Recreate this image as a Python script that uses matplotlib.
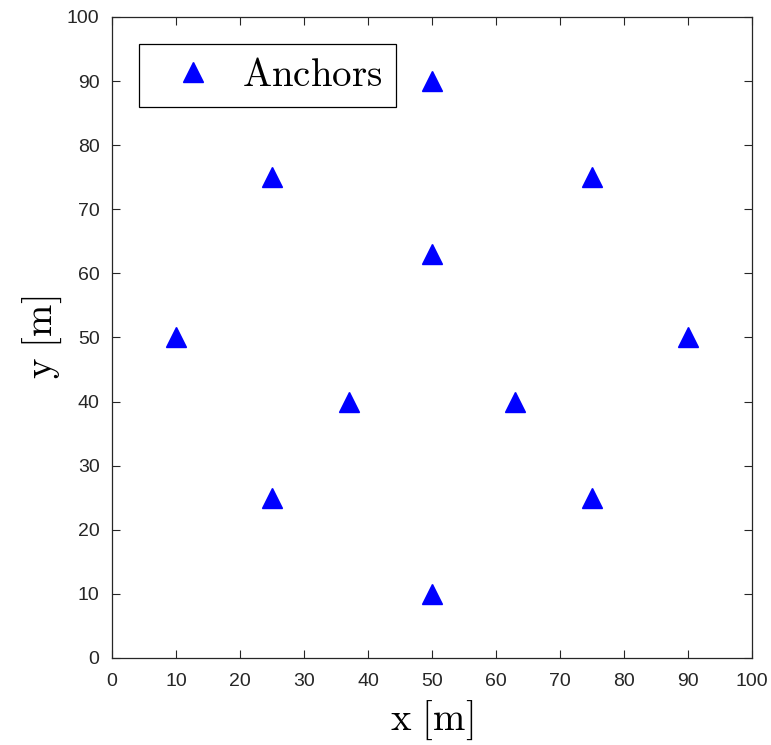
import numpy as np
import matplotlib.pyplot as plt
import matplotlib

# フォント設定
matplotlib.rcParams['font.family'] = 'Liberation Sans'
matplotlib.rcParams['mathtext.fontset'] = 'cm'
matplotlib.rcParams['font.size'] = 14

# --- アンカー座標 ---
anchor_x = [50, 25, 75, 50, 10, 90, 37, 63, 25, 75, 50]
anchor_y = [90, 75, 75, 63, 50, 50, 40, 40, 25, 25, 10]
ticks = list(range(0, 101, 10))

fig = plt.figure(figsize=(7.71, 7.45), dpi=100)
ax = fig.add_axes([0.1453, 0.1168, 0.8301, 0.8604])

ax.plot(anchor_x, anchor_y, linestyle='none', marker='^', markersize=15,
        color='#0000ff', label=r'$\mathrm{Anchors}$')

ax.set_xlim(0, 100)
ax.set_ylim(0, 100)
ax.set_xticks(ticks)
ax.set_yticks(ticks)
ax.tick_params(direction='in', length=6, width=0.8, top=True, right=True,
               colors='#262626', labelsize=14)
ax.tick_params(axis='x', pad=11)
ax.tick_params(axis='y', pad=9)
for sp in ax.spines.values():
    sp.set_color('#262626')
    sp.set_linewidth(0.9)

ax.set_xlabel(r'$\mathrm{x\ [m]}$', fontsize=28, labelpad=6)
ax.set_ylabel(r'$\mathrm{y\ [m]}$', fontsize=28, labelpad=2)

leg = ax.legend(loc='upper left', bbox_to_anchor=(0.042, 0.958), fontsize=28,
                fancybox=False, edgecolor='black', framealpha=1,
                borderpad=0.35, handletextpad=0.2, borderaxespad=0, handlelength=2.1)
leg.get_frame().set_linewidth(0.9)

fig.savefig('out.png', dpi=100)
